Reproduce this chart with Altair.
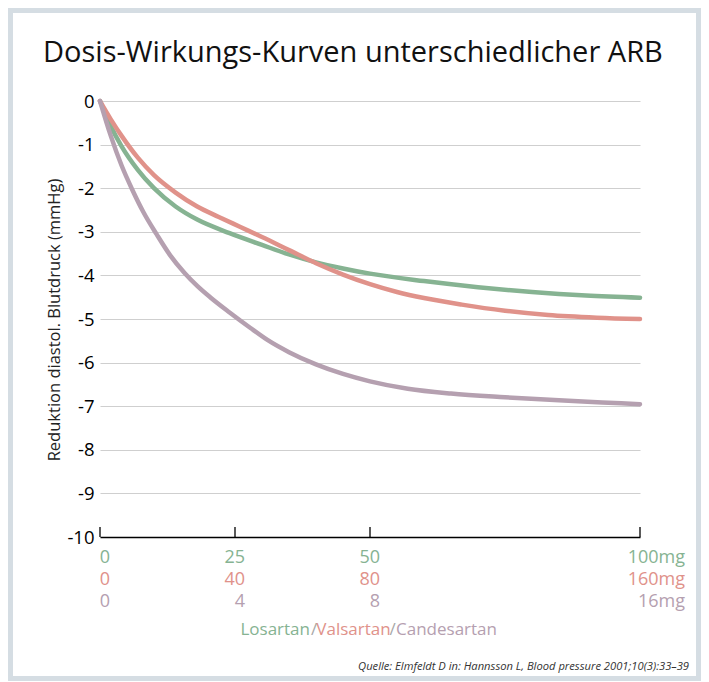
import altair as alt
import pandas as pd

title_text = "Dosis-Wirkungs-Kurven unterschiedlicher ARB"
y_title = "Reduktion diastol. Blutdruck (mmHg)"
source_text = "Quelle: Elmfeldt D in: Hannsson L, Blood pressure 2001;10(3):33–39"

drugs = ["Losartan", "Valsartan", "Candesartan"]
colors = ["#86b392", "#e0928a", "#b5a0b0"]
slash_color = "#a8a8a8"

# x = dose as % of the highest dose shown (100 mg / 160 mg / 16 mg)
los_pct = [0, 2, 4, 7, 10, 14, 18, 24, 30, 35, 40, 45, 50, 60, 70, 80, 90, 100]
los_eff = [0, -0.58, -1.04, -1.58, -2.0, -2.42, -2.72, -3.03, -3.3, -3.52, -3.7,
           -3.84, -3.96, -4.13, -4.27, -4.38, -4.46, -4.51]

val_pct = [0, 2, 4, 7, 10, 14, 18, 22, 26, 30, 35, 40, 45, 50, 55, 60, 67, 75, 83, 92, 100]
val_eff = [0, -0.42, -0.8, -1.3, -1.7, -2.1, -2.42, -2.66, -2.89, -3.12, -3.42, -3.72,
           -3.98, -4.2, -4.38, -4.52, -4.67, -4.81, -4.91, -4.97, -5.0]

cand_pct = [0, 2, 4, 6, 8, 10.5, 13, 15.7, 18, 20.4, 24, 27.8, 31, 35, 40, 45, 50, 57,
            65, 75, 85, 93, 100]
cand_eff = [0, -0.8, -1.48, -2.04, -2.54, -3.06, -3.54, -3.95, -4.24, -4.5, -4.85, -5.2,
            -5.48, -5.76, -6.04, -6.26, -6.43, -6.6, -6.71, -6.795, -6.865, -6.913, -6.955]

tick_pct = [0, 25, 50, 100]
los_labels = ["0", "25", "50", "100mg"]
val_labels = ["0", "40", "80", "160mg"]
cand_labels = ["0", "4", "8", "16mg"]
y_ticks = list(range(0, -11, -1))

FONT = "Open Sans"
W, H = 540, 436
BAND = "#d5dde3"

rows = []
for d, xs, ys in zip(drugs, [los_pct, val_pct, cand_pct], [los_eff, val_eff, cand_eff]):
    for a, b in zip(xs, ys):
        rows.append({"drug": d, "pct": a, "value": b})
curves = pd.DataFrame(rows)

x_enc = alt.X("pct:Q", scale=alt.Scale(domain=[0, 100], nice=False, zero=False),
              axis=alt.Axis(title=None, labels=False, ticks=False, grid=False,
                            domainColor="black", domainWidth=1.3))
y_enc = alt.Y("value:Q", scale=alt.Scale(domain=[-10, 0], nice=False),
              axis=alt.Axis(values=y_ticks, title=None, domain=False, ticks=False,
                            grid=True, gridColor="#cfcfcf", gridWidth=1,
                            labelFontSize=18.5, labelColor="black", labelFont=FONT,
                            labelPadding=6, labelExpr="'' + datum.value"))

one = pd.DataFrame({"k": [0]})

frame = alt.Chart(one).mark_rect(fillOpacity=0, stroke=BAND, strokeWidth=5).encode(
    x=alt.value(-89.5), x2=alt.value(598.5), y=alt.value(-90.5), y2=alt.value(577.5))

lines = alt.Chart(curves).mark_line(strokeWidth=4.5, interpolate="monotone",
                                    strokeCap="round").encode(
    x=x_enc, y=y_enc,
    color=alt.Color("drug:N", scale=alt.Scale(domain=drugs, range=colors), legend=None))

ticks = alt.Chart(pd.DataFrame({"pct": tick_pct})).mark_rule(color="black", strokeWidth=1.3).encode(
    x=alt.X("pct:Q"), y=alt.value(H), y2=alt.value(H - 10))

layers = [frame, ticks, lines]

row_base = [462, 484, 506]
for labels, col, yb in zip([los_labels, val_labels, cand_labels], colors, row_base):
    df = pd.DataFrame({"pct": tick_pct, "label": labels})
    first = alt.Chart(df[:-1]).mark_text(align="right", dx=10, baseline="alphabetic",
                                         fontSize=18, font=FONT, color=col).encode(
        x=alt.X("pct:Q"), y=alt.value(yb), text="label:N")
    last = alt.Chart(df[-1:]).mark_text(align="right", dx=45, baseline="alphabetic",
                                        fontSize=18, font=FONT, color=col).encode(
        x=alt.X("pct:Q"), y=alt.value(yb), text="label:N")
    layers += [first, last]

# legend line: Losartan/Valsartan/Candesartan
leg_y = 534
leg_parts = [("Losartan", colors[0], "right", 210),
             ("/", slash_color, "center", 214),
             ("Valsartan", colors[1], "center", 253.5),
             ("/", slash_color, "center", 292.5),
             ("Candesartan", colors[2], "left", 296)]
for txt, col, al, xp in leg_parts:
    layers.append(alt.Chart(pd.DataFrame({"t": [txt]})).mark_text(
        align=al, baseline="alphabetic", fontSize=17, font=FONT, color=col).encode(
        x=alt.value(xp), y=alt.value(leg_y), text="t:N"))

title = alt.Chart(pd.DataFrame({"t": [title_text]})).mark_text(
    align="left", baseline="alphabetic", fontSize=29, font=FONT, color="#111111").encode(
    x=alt.value(-57), y=alt.value(-39), text="t:N")

ytitle = alt.Chart(pd.DataFrame({"t": [y_title]})).mark_text(
    align="center", baseline="middle", angle=270, fontSize=16.5, font=FONT, color="#222222").encode(
    x=alt.value(-45), y=alt.value(219), text="t:N")

source = alt.Chart(pd.DataFrame({"t": [source_text]})).mark_text(
    align="right", baseline="alphabetic", fontSize=11.2, font=FONT, fontStyle="italic",
    color="#333333").encode(x=alt.value(589), y=alt.value(569), text="t:N")

layers += [title, ytitle, source]

chart = alt.layer(*layers).properties(
    width=W, height=H,
    autosize=alt.AutoSizeParams(type="none"),
    padding={"left": 92, "top": 93, "right": 61, "bottom": 145},
    background="white",
).configure_view(strokeWidth=0)

chart.save("out.html", embed_options={"renderer": "svg", "actions": False})
